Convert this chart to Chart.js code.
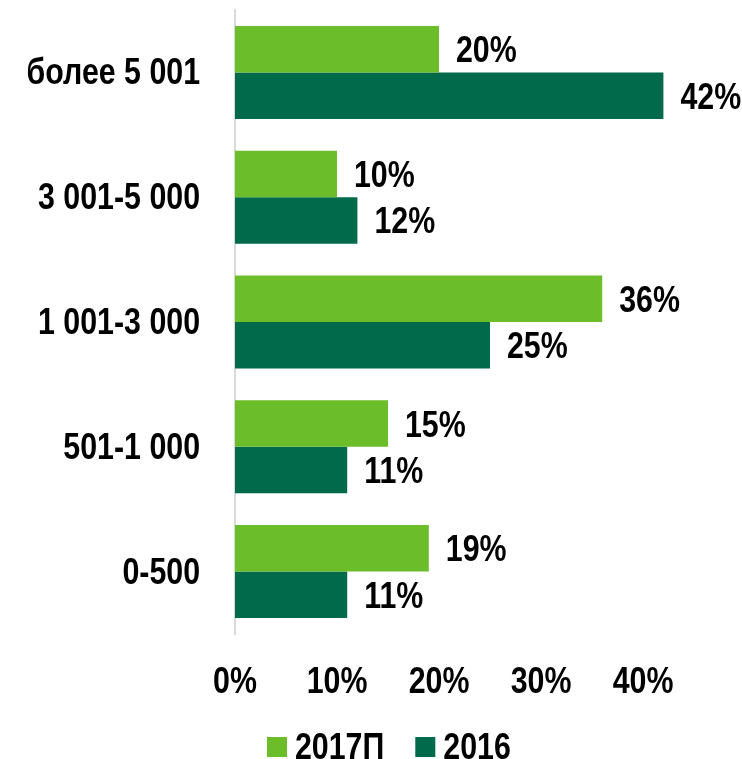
<!DOCTYPE html>
<html>
<head>
<meta charset="utf-8">
<script src="https://cdn.jsdelivr.net/npm/chart.js@4"></script>
<style>
  html, body { margin: 0; padding: 0; background: #fff; }
  #wrap { width: 742px; height: 759px; }
</style>
</head>
<body>
<div id="wrap"><canvas id="chart"></canvas></div>
<script>
const categories = ["более 5 001", "3 001-5 000", "1 001-3 000", "501-1 000", "0-500"];
const series2017 = [20, 10, 36, 15, 19];
const series2016 = [42, 12, 25, 11, 11];
const seriesNames = ["2017П", "2016"];
const tickValues = [0, 10, 20, 30, 40];
const colors = ["#6bbd2a", "#006a4b"];

// no narrow font installed, so squeeze Liberation Sans Bold by hand
const FONT = 'bold 37px "Liberation Sans", Arial, sans-serif';
const SQUEEZE = 0.82;

function narrowText(ctx, str, x, y, align) {
  ctx.save();
  ctx.translate(x, y);
  ctx.scale(SQUEEZE, 1);
  ctx.textAlign = align;
  ctx.fillText(str, 0, 0);
  ctx.restore();
}

const textLayer = {
  id: "textLayer",
  afterDraw(chart) {
    const ctx = chart.ctx;
    const xs = chart.scales.x;
    const ys = chart.scales.y;
    const area = chart.chartArea;
    ctx.save();
    ctx.font = FONT;
    ctx.fillStyle = "#000";
    ctx.textBaseline = "alphabetic";

    // category labels
    categories.forEach((c, i) => {
      narrowText(ctx, c, area.left - 35, ys.getPixelForValue(i) + 12, "right");
    });

    // value axis labels
    tickValues.forEach(v => {
      narrowText(ctx, v + "%", xs.getPixelForValue(v), area.bottom + 59, "center");
    });

    // values after the bars
    chart.data.datasets.forEach((ds, i) => {
      chart.getDatasetMeta(i).data.forEach((bar, j) => {
        narrowText(ctx, ds.data[j] + "%", bar.x + 17, bar.y + 13, "left");
      });
    });

    // legend
    let lx = 267;
    const ly = 746;
    seriesNames.forEach((name, i) => {
      ctx.fillStyle = colors[i];
      ctx.fillRect(lx, ly - 9, 20, 20);
      ctx.fillStyle = "#000";
      narrowText(ctx, name, lx + 28, ly + 13, "left");
      lx += 28 + ctx.measureText(name).width * SQUEEZE + 31;
    });
    ctx.restore();
  }
};

const ctx = document.getElementById("chart").getContext("2d");
const chart = new Chart(ctx, {
  type: "bar",
  data: {
    labels: categories,
    datasets: [
      { label: seriesNames[0], data: series2017, backgroundColor: colors[0], borderWidth: 0 },
      { label: seriesNames[1], data: series2016, backgroundColor: colors[1], borderWidth: 0 },
    ],
  },
  options: {
    indexAxis: "y",
    responsive: true,
    maintainAspectRatio: false,
    animation: false,
    layout: { padding: { top: 10, right: 48, left: 235, bottom: 125 } },
    datasets: {
      bar: { categoryPercentage: 0.745, barPercentage: 1.0 },
    },
    scales: {
      x: { display: false, min: 0, max: 45 },
      y: {
        afterFit(axis) { axis.width = 0; },
        grid: { display: false, drawTicks: false },
        border: { display: true, color: "#d9d9d9", width: 2 },
        ticks: { display: false },
      },
    },
    plugins: {
      legend: { display: false },
      tooltip: { enabled: false },
    },
  },
  plugins: [textLayer],
});
</script>
</body>
</html>
